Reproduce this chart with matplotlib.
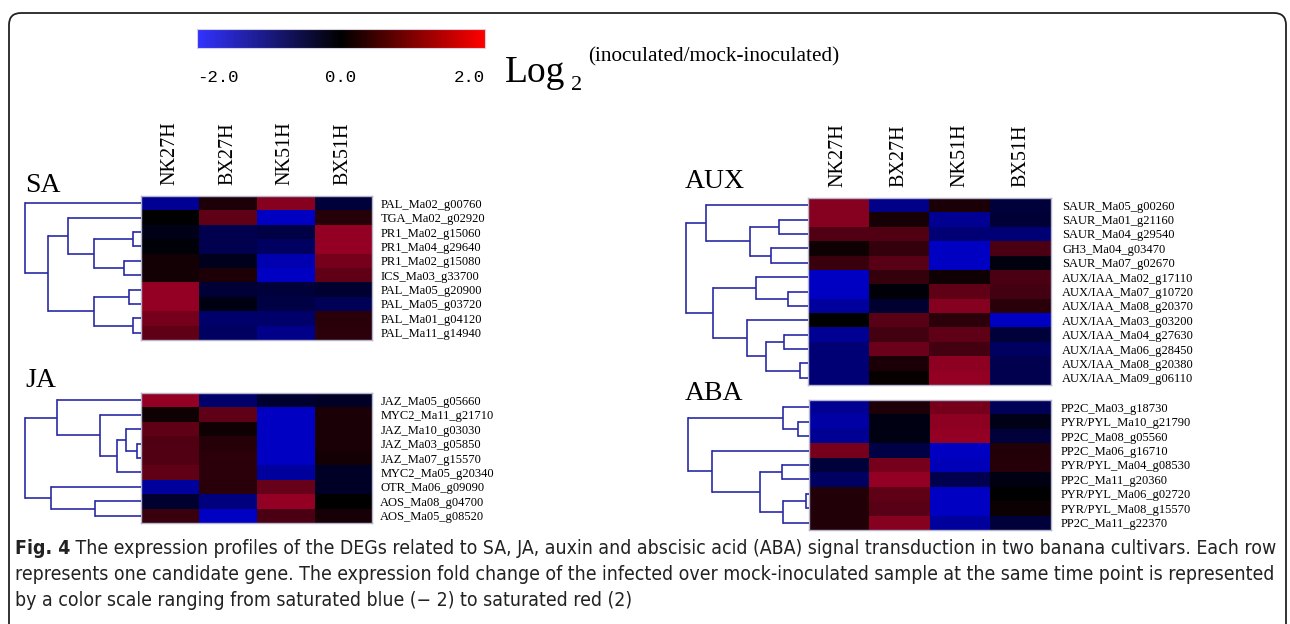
import numpy as np
import matplotlib
matplotlib.use('Agg')
import matplotlib.pyplot as plt
from matplotlib.colors import LinearSegmentedColormap, Normalize
from matplotlib.cm import ScalarMappable
from matplotlib.patches import FancyBboxPatch
from matplotlib import font_manager

W, H = 1290, 624

# ---------------- data ----------------
samples = ['NK27H', 'BX27H', 'NK51H', 'BX51H']

sa_genes = ['PAL_Ma02_g00760', 'TGA_Ma02_g02920', 'PR1_Ma02_g15060', 'PR1_Ma04_g29640',
            'PR1_Ma02_g15080', 'ICS_Ma03_g33700', 'PAL_Ma05_g20900', 'PAL_Ma05_g03720',
            'PAL_Ma01_g04120', 'PAL_Ma11_g14940']
sa_values = [[-1.5, 0.4, 1.8, -0.6],
             [0.0, 1.3, -2.0, 0.5],
             [-0.25, -0.8, -0.7, 2.0],
             [-0.1, -0.8, -1.0, 2.0],
             [0.25, -0.3, -1.8, 1.6],
             [0.25, 0.4, -2.0, 1.3],
             [2.0, -0.55, -0.6, -0.5],
             [2.0, -0.2, -0.7, -0.9],
             [1.6, -1.1, -1.1, 0.55],
             [1.3, -1.0, -1.4, 0.6]]
# tree: (height, left, right); leaves = row index
sa_tree = (116, 0, (93, (73, 1, (47, (8, 2, 3), (17, 4, 5))), (47, (12, 6, 7), (8, 8, 9))))

ja_genes = ['JAZ_Ma05_g05660', 'MYC2_Ma11_g21710', 'JAZ_Ma10_g03030', 'JAZ_Ma03_g05850',
            'JAZ_Ma07_g15570', 'MYC2_Ma05_g20340', 'OTR_Ma06_g09090', 'AOS_Ma08_g04700',
            'AOS_Ma05_g08520']
ja_values = [[2.0, -1.1, -0.5, -0.4],
             [0.2, 1.3, -2.0, 0.35],
             [1.3, 0.2, -2.0, 0.35],
             [1.1, 0.5, -2.0, 0.35],
             [1.1, 0.6, -2.0, 0.25],
             [1.3, 0.6, -1.6, -0.4],
             [-1.6, 0.55, 1.4, -0.4],
             [-0.5, -1.3, 2.0, 0.0],
             [0.75, -2.0, 1.0, 0.3]]
ja_tree = (116, (84, 0, (41, 1, (24, (15, 2, (4, 3, 4)), 5))), (90, 6, (46, 7, 8)))

aux_genes = ['SAUR_Ma05_g00260', 'SAUR_Ma01_g21160', 'SAUR_Ma04_g29540', 'GH3_Ma04_g03470',
             'SAUR_Ma07_g02670', 'AUX/IAA_Ma02_g17110', 'AUX/IAA_Ma07_g10720',
             'AUX/IAA_Ma08_g20370', 'AUX/IAA_Ma03_g03200', 'AUX/IAA_Ma04_g27630',
             'AUX/IAA_Ma06_g28450', 'AUX/IAA_Ma08_g20380', 'AUX/IAA_Ma09_g06110']
aux_values = [[1.8, -1.4, 0.35, -0.6],
              [1.8, 0.3, -1.5, -0.55],
              [1.1, 1.1, -1.2, -1.2],
              [0.2, 0.7, -2.0, 1.0],
              [0.75, 1.2, -2.0, -0.15],
              [-2.0, 0.7, 0.2, 1.0],
              [-2.0, -0.1, 1.3, 0.9],
              [-1.6, -0.5, 1.8, 0.55],
              [0.0, 1.2, 0.6, -2.0],
              [-1.5, 0.9, 1.3, -0.6],
              [-1.2, 1.45, 0.9, -1.0],
              [-1.2, 0.35, 1.9, -0.8],
              [-1.2, 0.1, 2.0, -0.8]]
aux_tree = (122, (102, 0, (58, (29, 1, 2), (37, 3, 4))),
            (95, (52, 5, (20, 6, 7)), (61, 8, (42, (24, 9, 10), (8, 11, 12)))))

aba_genes = ['PP2C_Ma03_g18730', 'PYR/PYL_Ma10_g21790', 'PP2C_Ma08_g05560', 'PP2C_Ma06_g16710',
             'PYR/PYL_Ma04_g08530', 'PP2C_Ma11_g20360', 'PYR/PYL_Ma06_g02720',
             'PYR/PYL_Ma08_g15570', 'PP2C_Ma11_g22370']
aba_values = [[-1.5, 0.4, 1.6, -0.9],
              [-1.7, -0.2, 1.9, -0.25],
              [-1.5, -0.2, 2.0, -0.6],
              [1.6, -0.7, -2.0, 0.45],
              [-0.6, 1.6, -1.9, 0.5],
              [-1.0, 2.0, -0.8, -0.2],
              [0.45, 1.3, -2.0, 0.0],
              [0.45, 1.2, -2.0, 0.15],
              [0.45, 1.8, -1.6, -0.6]]
aba_tree = (121, (26, 0, (11, 1, 2)), (97, 3, (49, (27, 4, 5), (26, (3, 6, 7), 8))))

cbar_ticks = [-2.0, 0.0, 2.0]
cbar_tick_labels = ['-2.0', '0.0', '2.0']

caption_lines = [
    ("Fig. 4", " The expression profiles of the DEGs related to SA, JA, auxin and abscisic acid (ABA) signal transduction in two banana cultivars. Each row"),
    ("", "represents one candidate gene. The expression fold change of the infected over mock-inoculated sample at the same time point is represented"),
    ("", "by a color scale ranging from saturated blue (\u2212 2) to saturated red (2)"),
]

# ---------------- style ----------------
heat_cmap = LinearSegmentedColormap.from_list(
    'heat', [(0, 0, 195 / 255), (0, 0, 0), (148 / 255, 0, 36 / 255)])
bar_cmap = LinearSegmentedColormap.from_list(
    'bar', [(50 / 255, 50 / 255, 1.0), (0, 0, 0), (1.0, 0, 0)])
norm = Normalize(-2, 2)
DEND_COLOR = '#2a2aa8'
SERIF = ['Liberation Serif', 'DejaVu Serif']

# choose a condensed sans for the caption if one exists
CAP_FONT = ['Open Sans', 'DejaVu Sans']
CAP_STRETCH = 'normal'
for f in font_manager.fontManager.ttflist:
    st = str(f.stretch).lower()
    if f.name in ('Open Sans', 'Roboto', 'DejaVu Sans', 'Noto Sans', 'Liberation Sans') and \
            st in ('condensed', 'semi-condensed', '75', '87.5') and f.weight in (400, 'normal', 'regular'):
        CAP_FONT = [f.name, 'DejaVu Sans']
        CAP_STRETCH = 'condensed' if st in ('condensed', '75') else 'semi-condensed'
        break
    if ('Condensed' in f.name or 'Narrow' in f.name) and 'Sans' in f.name:
        CAP_FONT = [f.name, 'DejaVu Sans']
        break

fig = plt.figure(figsize=(W / 100, H / 100), dpi=100)
bg = fig.add_axes([0, 0, 1, 1])
bg.set_xlim(0, W)
bg.set_ylim(H, 0)
bg.axis('off')

bg.add_patch(FancyBboxPatch((9, 13), 1277, 660, boxstyle='round,pad=0,rounding_size=12',
                            fc='none', ec='#222222', lw=1.3, clip_on=True))


def px_axes(x0, y0, x1, y1):
    return fig.add_axes([x0 / W, 1 - y1 / H, (x1 - x0) / W, (y1 - y0) / H])


def draw_tree(ax, node):
    if isinstance(node, int):
        return float(node), 0.0
    h, a, b = node
    ya, ha = draw_tree(ax, a)
    yb, hb = draw_tree(ax, b)
    ax.plot([ha, h], [ya, ya], color=DEND_COLOR, lw=1.2, solid_capstyle='butt')
    ax.plot([hb, h], [yb, yb], color=DEND_COLOR, lw=1.2, solid_capstyle='butt')
    ax.plot([h, h], [ya, yb], color=DEND_COLOR, lw=1.2, solid_capstyle='projecting')
    return (ya + yb) / 2, h


def panel(rect, dend_left, genes, values, tree, show_cols, label_pad):
    x0, y0, x1, y1 = rect
    n = len(genes)
    ax = px_axes(x0, y0, x1, y1)
    ax.imshow(np.array(values), cmap=heat_cmap, norm=norm, aspect='auto',
              interpolation='nearest')
    ax.set_yticks(range(n))
    ax.set_yticklabels(genes, family=SERIF, fontsize=9.0)
    ax.yaxis.tick_right()
    ax.tick_params(axis='y', length=0, pad=label_pad)
    if show_cols:
        ax.set_xticks(range(len(samples)))
        ax.set_xticklabels(samples, rotation=90, family=SERIF, fontsize=14.5)
        ax.xaxis.tick_top()
        ax.tick_params(axis='x', length=0, pad=8)
    else:
        ax.set_xticks([])
    for s in ax.spines.values():
        s.set_color('#b4b4cc')
        s.set_linewidth(1.0)
    dax = px_axes(dend_left - 2, y0, x0, y1)
    dax.set_xlim(x0 - dend_left + 2, 0)
    dax.set_ylim(n - 0.5, -0.5)
    dax.axis('off')
    draw_tree(dax, tree)


panel((141, 196, 372, 340), 25, sa_genes, sa_values, sa_tree, True, 6)
panel((141, 393, 372, 523), 25, ja_genes, ja_values, ja_tree, False, 6)
panel((808, 198, 1051, 385), 687, aux_genes, aux_values, aux_tree, True, 8)
panel((809, 400, 1051, 530), 688, aba_genes, aba_values, aba_tree, False, 7)

# panel titles
for txt, x, y in [('SA', 25, 192), ('JA', 25, 387), ('AUX', 685, 188), ('ABA', 685, 400)]:
    bg.text(x, y, txt, family=SERIF, fontsize=20, va='baseline', ha='left')

# colour bar
cax = px_axes(197, 29, 485, 48)
cb = fig.colorbar(ScalarMappable(norm=norm, cmap=bar_cmap), cax=cax, orientation='horizontal')
cb.outline.set_edgecolor('#d8d0e0')
cb.outline.set_linewidth(0.8)
cb.set_ticks(cbar_ticks)
cb.set_ticklabels(cbar_tick_labels)
cax.tick_params(axis='x', length=0, pad=16)
for lab, ha in zip(cax.get_xticklabels(), ['left', 'center', 'right']):
    lab.set_ha(ha)
    lab.set_family(['Liberation Mono', 'DejaVu Sans Mono'])
    lab.set_fontsize(12.5)

bg.text(505, 82, 'Log', family=SERIF, fontsize=27, va='baseline', ha='left')
bg.text(571, 90, '2', family=SERIF, fontsize=16, va='baseline', ha='left')
bg.text(588, 61, '(inoculated/mock-inoculated)', family=SERIF, fontsize=15.3,
        va='baseline', ha='left')

# caption
cap_fs = 12.0
baselines = [554, 580, 606]
fig.canvas.draw()
r = fig.canvas.get_renderer()
probe = bg.text(15, 580, caption_lines[1][1], family=CAP_FONT, fontsize=cap_fs,
                fontstretch=CAP_STRETCH)
w = probe.get_window_extent(r).width
probe.remove()
cap_fs = min(cap_fs * (1275 - 15) / w, 15.0)
for (bold, rest), yb in zip(caption_lines, baselines):
    x = 15
    if bold:
        t = bg.text(x, yb, bold, family=CAP_FONT, fontsize=cap_fs, weight='bold',
                    fontstretch=CAP_STRETCH, va='baseline', color='#222222')
        x = t.get_window_extent(r).x1
    bg.text(x, yb, rest, family=CAP_FONT, fontsize=cap_fs, va='baseline',
            fontstretch=CAP_STRETCH, color='#222222')

fig.savefig('out.png', dpi=100)
